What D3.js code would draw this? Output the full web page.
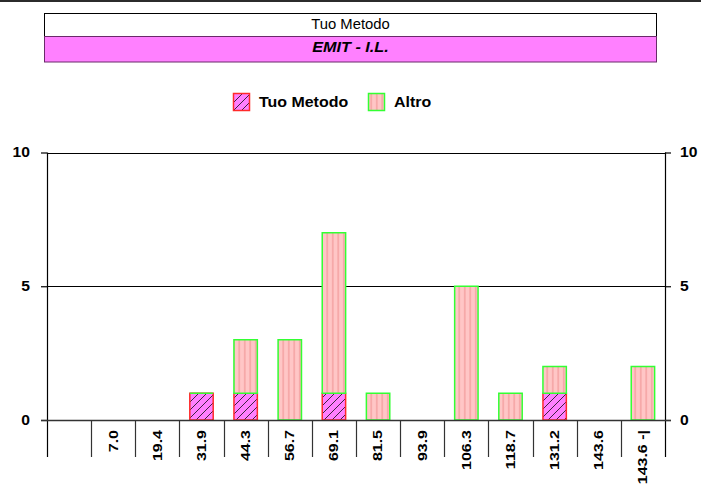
<!DOCTYPE html>
<html>
<head>
<meta charset="utf-8">
<script src="https://cdn.jsdelivr.net/npm/d3@7"></script>
<style>
  body { margin: 0; background: #fff; }
  svg { display: block; }
</style>
</head>
<body>
<div id="chart"></div>
<script>
// dati
const categories = ["", "7.0", "19.4", "31.9", "44.3", "56.7", "69.1", "81.5", "93.9", "106.3", "118.7", "131.2", "143.6", "143.6 -|"];
const tuoMetodo = [0, 0, 0, 1, 1, 0, 1, 0, 0, 0, 0, 1, 0, 0];
const altro = [0, 0, 0, 0, 2, 3, 6, 1, 0, 5, 1, 1, 0, 2];
const yTicks = [0, 5, 10];
const seriesNames = ["Tuo Metodo", "Altro"];
const titleTop = "Tuo Metodo";
const titleSub = "EMIT - I.L.";

const width = 701, height = 487;
const plot = { left: 47, right: 665, top: 152.5, bottom: 420 };
const font = "'Liberation Sans', Arial, sans-serif";

const rows = categories.map((c, i) => ({ cat: c, tuo: tuoMetodo[i], altro: altro[i] }));

const svg = d3.select('#chart').append('svg')
  .attr('width', width)
  .attr('height', height);

// pattern
const defs = svg.append('defs');
const hatch = defs.append('pattern')
  .attr('id', 'hatch')
  .attr('patternUnits', 'userSpaceOnUse')
  .attr('width', 8).attr('height', 8);
hatch.append('rect').attr('width', 8).attr('height', 8).attr('fill', '#ff80ff');
hatch.append('path')
  .attr('d', 'M0,8 L8,0 M-2,2 L2,-2 M6,10 L10,6')
  .attr('stroke', '#2a1a2a').attr('stroke-width', 0.9);

const stripes = defs.append('pattern')
  .attr('id', 'stripes')
  .attr('patternUnits', 'userSpaceOnUse')
  .attr('width', 5.5).attr('height', 6);
stripes.append('rect').attr('width', 5.5).attr('height', 6).attr('fill', '#ffc6c6');
stripes.append('rect').attr('x', 2).attr('width', 1.5).attr('height', 6).attr('fill', '#f5a3a3');

const fills = { "Tuo Metodo": 'url(#hatch)', "Altro": 'url(#stripes)' };
const strokes = { "Tuo Metodo": '#ff2a2a', "Altro": '#33ff33' };

// barra in alto
svg.append('rect')
  .attr('x', 0).attr('y', 0)
  .attr('width', width).attr('height', 2)
  .attr('fill', '#2b2b2b');

// titolo
svg.append('rect')
  .attr('x', 44.5).attr('y', 13.5)
  .attr('width', 612).attr('height', 23)
  .attr('fill', '#fff').attr('stroke', '#000').attr('stroke-width', 1);
svg.append('rect')
  .attr('x', 44.5).attr('y', 36.5)
  .attr('width', 612).attr('height', 25.5)
  .attr('fill', '#ff80ff').attr('stroke', '#6a2a6a').attr('stroke-width', 1);
svg.append('text')
  .attr('transform', 'translate(350.5,28.5) scale(1.06,1)')
  .attr('text-anchor', 'middle')
  .style('font-family', font).style('font-size', '14px')
  .text(titleTop);
svg.append('text')
  .attr('transform', 'translate(350.5,51.5) scale(1.08,1)')
  .attr('text-anchor', 'middle')
  .style('font-family', font).style('font-size', '15px')
  .style('font-weight', 'bold').style('font-style', 'italic')
  .text(titleSub);

// legenda
const legendX = [233, 368];
const legend = svg.append('g').attr('id', 'legend');
seriesNames.forEach((name, i) => {
  legend.append('rect')
    .attr('x', legendX[i] + 0.5).attr('y', 93.5)
    .attr('width', 16).attr('height', 17)
    .attr('fill', fills[name])
    .attr('stroke', strokes[name]).attr('stroke-width', 1.5);
  legend.append('text')
    .attr('transform', `translate(${legendX[i] + 26},106.5) scale(1.1,1)`)
    .style('font-family', font).style('font-size', '14.5px').style('font-weight', 'bold')
    .text(name);
});

// scale
const x = d3.scaleBand()
  .domain(categories)
  .range([plot.left, plot.right])
  .paddingInner(0.47)
  .paddingOuter(0.235);
const y = d3.scaleLinear()
  .domain([0, 10])
  .range([plot.bottom, plot.top]);

const gap = (x.step() - x.bandwidth()) / 2;

// griglia
svg.append('g').attr('id', 'grid')
  .selectAll('line')
  .data(yTicks.filter(d => d > 0))
  .join('line')
  .attr('x1', plot.left).attr('x2', plot.right)
  .attr('y1', d => Math.round(y(d)) + 0.5).attr('y2', d => Math.round(y(d)) + 0.5)
  .attr('stroke', '#000').attr('stroke-width', 1.2);

// barre
const bars = svg.append('g').attr('id', 'bars');
bars.selectAll('rect.tuo')
  .data(rows.filter(d => d.tuo > 0))
  .join('rect')
  .attr('class', 'tuo')
  .attr('x', d => x(d.cat))
  .attr('y', d => y(d.tuo))
  .attr('width', x.bandwidth())
  .attr('height', d => y(0) - y(d.tuo))
  .attr('fill', fills["Tuo Metodo"])
  .attr('stroke', strokes["Tuo Metodo"]).attr('stroke-width', 1.5);
bars.selectAll('rect.altro')
  .data(rows.filter(d => d.altro > 0))
  .join('rect')
  .attr('class', 'altro')
  .attr('x', d => x(d.cat))
  .attr('y', d => y(d.tuo + d.altro))
  .attr('width', x.bandwidth())
  .attr('height', d => y(d.tuo) - y(d.tuo + d.altro))
  .attr('fill', fills["Altro"])
  .attr('stroke', strokes["Altro"]).attr('stroke-width', 1.5);
// segmento "Altro" a zero: solo il bordo
bars.selectAll('line.altro0')
  .data(rows.filter(d => d.altro === 0 && d.tuo > 0))
  .join('line')
  .attr('class', 'altro0')
  .attr('x1', d => x(d.cat)).attr('x2', d => x(d.cat) + x.bandwidth())
  .attr('y1', d => y(d.tuo)).attr('y2', d => y(d.tuo))
  .attr('stroke', strokes["Altro"]).attr('stroke-width', 1.5);

// assi
const axisBottomY = plot.bottom + 37;
const axes = svg.append('g').attr('id', 'axes').attr('color', '#000');

const leftAxis = axes.append('g')
  .attr('transform', `translate(${plot.left},0)`)
  .call(d3.axisLeft(y).tickValues(yTicks).tickSize(6).tickSizeOuter(0));
const rightAxis = axes.append('g')
  .attr('transform', `translate(${plot.right},0)`)
  .call(d3.axisRight(y).tickValues(yTicks).tickSize(6).tickSizeOuter(0));
[leftAxis, rightAxis].forEach(g => {
  g.select('.domain').remove();
  g.selectAll('.tick line').attr('stroke-width', 1.2);
  g.selectAll('text')
    .style('font-family', font).style('font-size', '14px').style('font-weight', 'bold');
});
leftAxis.selectAll('text').attr('x', null).attr('transform', 'translate(-17,0) scale(1.12,1)');
rightAxis.selectAll('text').attr('x', null).attr('transform', 'translate(15,0) scale(1.12,1)');

// linee verticali degli assi
axes.selectAll('line.vaxis')
  .data([plot.left, plot.right])
  .join('line')
  .attr('class', 'vaxis')
  .attr('x1', d => d + 0.5).attr('x2', d => d + 0.5)
  .attr('y1', plot.top).attr('y2', axisBottomY)
  .attr('stroke', '#000').attr('stroke-width', 1.2);

// separatori delle categorie
axes.selectAll('line.sep')
  .data(categories.slice(1))
  .join('line')
  .attr('class', 'sep')
  .attr('x1', d => Math.round(x(d) - gap) + 0.5).attr('x2', d => Math.round(x(d) - gap) + 0.5)
  .attr('y1', plot.bottom).attr('y2', axisBottomY)
  .attr('stroke', '#333').attr('stroke-width', 1.2);

// linea dello zero
axes.append('line')
  .attr('x1', plot.left - 6).attr('x2', plot.right + 6)
  .attr('y1', y(0) + 0.5).attr('y2', y(0) + 0.5)
  .attr('stroke', '#333').attr('stroke-width', 1.5);

// etichette categorie
axes.selectAll('text.cat')
  .data(categories)
  .join('text')
  .attr('class', 'cat')
  .attr('transform', d => `translate(${x(d) + x.bandwidth() / 2},430) rotate(-90) scale(1.28,1)`)
  .attr('dy', '0.35em')
  .attr('text-anchor', 'end')
  .style('font-family', font).style('font-size', '12.5px').style('font-weight', 'bold')
  .text(d => d);
</script>
</body>
</html>
